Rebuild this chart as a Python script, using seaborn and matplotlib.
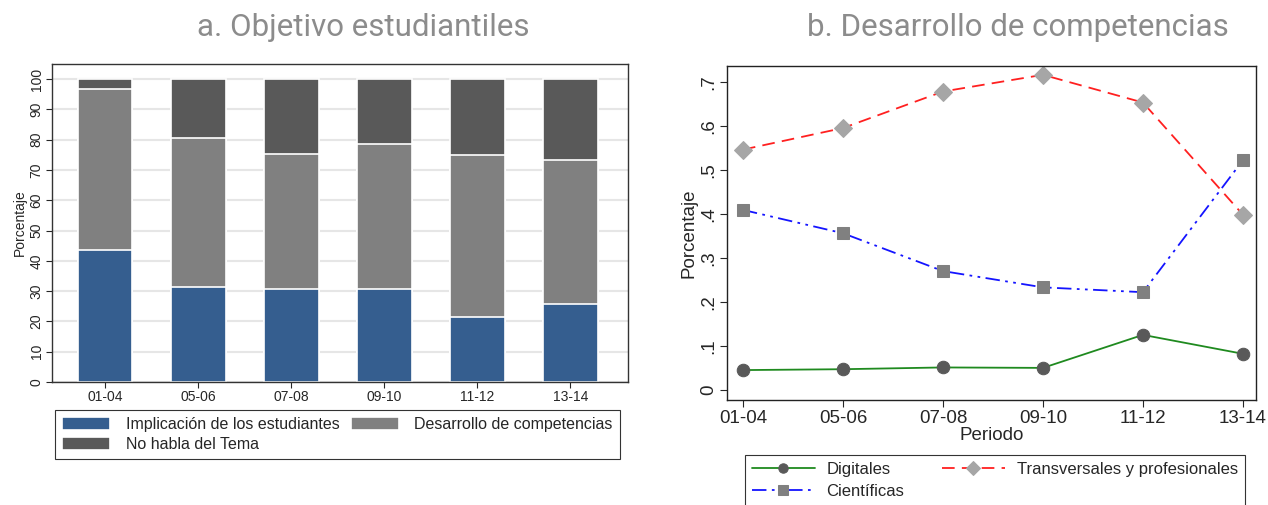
import matplotlib
matplotlib.use("Agg")
import matplotlib.pyplot as plt
import seaborn as sns
import pandas as pd

periodos = ["01-04", "05-06", "07-08", "09-10", "11-12", "13-14"]

# panel a: shares (%) per period
implicacion = [43.7, 31.2, 30.8, 30.7, 21.5, 25.9]
desarrollo = [53.1, 49.4, 44.4, 48.0, 53.3, 47.4]
no_habla = [100 - a - b for a, b in zip(implicacion, desarrollo)]

# panel b: proportions per period
digitales = [0.045, 0.047, 0.051, 0.050, 0.125, 0.082]
transversales = [0.546, 0.595, 0.678, 0.716, 0.653, 0.398]
cientificas = [0.409, 0.356, 0.270, 0.233, 0.222, 0.522]

sns.set_style("white")
plt.rcParams['font.family'] = ['Liberation Sans', 'DejaVu Sans']

fig = plt.figure(figsize=(12.68, 5.05), dpi=100)
ax1 = fig.add_axes([0.041, 0.2436, 0.4543, 0.6297])
ax2 = fig.add_axes([0.5733, 0.2079, 0.4172, 0.6614])

# ---- a. stacked bars (drawn back to front as cumulative totals)
df = pd.DataFrame({"periodo": periodos, "imp": implicacion, "des": desarrollo, "no": no_habla})
df["tot2"] = df["imp"] + df["des"]
df["tot3"] = df["tot2"] + df["no"]

for col, color, lab in [("tot3", "#595959", "No habla del Tema"),
                        ("tot2", "#808080", "Desarrollo de competencias"),
                        ("imp", "#355e8f", "Implicación de los estudiantes")]:
    sns.barplot(data=df, x="periodo", y=col, color=color, width=0.59,
                edgecolor="white", linewidth=1.2, label=lab, ax=ax1, saturation=1)

ax1.set_ylim(0, 105)
ax1.set_xlim(-0.57, 5.62)
ax1.set_yticks(range(0, 101, 10))
ax1.yaxis.grid(True, color="#e6e6e6", linewidth=1.5)
ax1.set_axisbelow(True)
ax1.set_xlabel("")
ax1.set_ylabel("Porcentaje", fontsize=10, labelpad=2)
ax1.tick_params(axis="both", labelsize=10, direction="out", length=4, width=0.8,
                bottom=True, left=True, pad=2)
for lbl in ax1.get_yticklabels():
    lbl.set_rotation(90)
    lbl.set_va("center")
for s in ax1.spines.values():
    s.set_color("#333333")
    s.set_linewidth(1.0)

h, l = ax1.get_legend_handles_labels()
order = [2, 0, 1]
leg1 = ax1.legend([h[i] for i in order], [l[i] for i in order], ncol=2, mode="expand",
                  loc="upper left", bbox_to_anchor=(0.0434, 0.0891, 0.4456, 0.099),
                  bbox_transform=fig.transFigure, fancybox=False, edgecolor="#333333",
                  fontsize=11.5, handlelength=3.0, handleheight=0.9, borderaxespad=0,
                  labelspacing=0.3, handletextpad=1.0, framealpha=1, borderpad=0.45,
                  columnspacing=0.3)
leg1.get_frame().set_linewidth(0.8)

# ---- b. lines
sns.lineplot(x=periodos, y=digitales, ax=ax2, color="#1f8a1f", linewidth=1.3,
             marker="o", markersize=9, markerfacecolor="#595959",
             markeredgecolor="#595959", label="Digitales")
sns.lineplot(x=periodos, y=cientificas, ax=ax2, color="#1414ff", linewidth=1.3,
             linestyle=(0, (8, 3, 1.5, 3, 1.5, 3)), marker="s", markersize=9,
             markerfacecolor="#808080", markeredgecolor="#808080", label="Científicas")
sns.lineplot(x=periodos, y=transversales, ax=ax2, color="#ff2020", linewidth=1.3,
             linestyle=(0, (7, 4)), marker="D", markersize=9,
             markerfacecolor="#a6a6a6", markeredgecolor="#a6a6a6",
             label="Transversales y profesionales")

ax2.set_ylim(-0.023, 0.736)
ax2.set_xlim(-0.16, 5.13)
yt = [0, 0.1, 0.2, 0.3, 0.4, 0.5, 0.6, 0.7]
ax2.set_yticks(yt)
ax2.set_yticklabels(["0", ".1", ".2", ".3", ".4", ".5", ".6", ".7"])
ax2.set_xlabel("Periodo", fontsize=13.5, labelpad=0)
ax2.set_ylabel("Porcentaje", fontsize=13.5, labelpad=2)
ax2.tick_params(axis="both", labelsize=13.5, direction="out", length=5, width=0.8,
                bottom=True, left=True, pad=2)
for lbl in ax2.get_yticklabels():
    lbl.set_rotation(90)
    lbl.set_va("center")
for s in ax2.spines.values():
    s.set_color("#222222")
    s.set_linewidth(1.0)

h, l = ax2.get_legend_handles_labels()
leg2 = ax2.legend(h, l, ncol=2, mode="expand",
                  loc="upper left", bbox_to_anchor=(0.5875, 0.099, 0.394, 0.0),
                  bbox_transform=fig.transFigure, fancybox=False, edgecolor="#333333",
                  fontsize=12, handlelength=3.8, borderaxespad=0, markerscale=0.75,
                  labelspacing=0.45, handletextpad=0.7, framealpha=1)
leg2.get_frame().set_linewidth(0.8)

# titles sit on the figure, not centred on the axes
fig.text(363 / 1268, 1 - 28 / 505, "a. Objetivo estudiantiles", fontsize=22.5,
         color="#8c8c8c", family=["Roboto", "DejaVu Sans"], ha="center", va="center")
fig.text(1018 / 1268, 1 - 28 / 505, "b. Desarrollo de competencias", fontsize=22.5,
         color="#8c8c8c", family=["Roboto", "DejaVu Sans"], ha="center", va="center")

fig.savefig("out.png", dpi=100)
